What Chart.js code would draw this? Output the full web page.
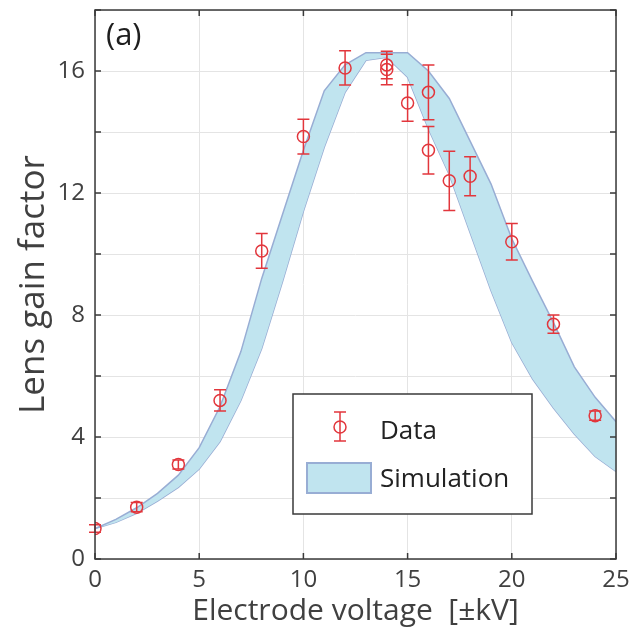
<!DOCTYPE html>
<html>
<head>
<meta charset="utf-8">
<script src="https://cdn.jsdelivr.net/npm/chart.js@4"></script>
<style>
  html, body { margin: 0; padding: 0; background: #fff; }
  #wrap { width: 631px; height: 629px; }
</style>
</head>
<body>
<div id="wrap"><canvas id="lensChart"></canvas></div>
<script>
const voltages = [0, 2, 4, 6, 8, 10, 12, 14, 14, 15, 16, 16, 17, 18, 20, 22, 24];
const gains = [1.0, 1.7, 3.1, 5.2, 10.1, 13.85, 16.1, 16.2, 16.05, 14.95, 15.3, 13.4, 12.4, 12.55, 10.4, 7.7, 4.7];
const gainErrors = [0.12, 0.15, 0.15, 0.35, 0.57, 0.57, 0.56, 0.45, 0.5, 0.6, 0.9, 0.78, 0.97, 0.64, 0.6, 0.3, 0.15];

// Simulation band
const simVoltages = [0, 1, 2, 3, 4, 5, 6, 7, 8, 9, 10, 11, 12, 13, 14, 15, 16, 17, 18, 19, 20, 21, 22, 23, 24, 25];
const simUpper = [1.0, 1.3, 1.68, 2.15, 2.75, 3.65, 5.0, 6.8, 9.2, 11.3, 13.4, 15.35, 16.2, 16.6, 16.6, 16.6, 16.0, 15.1, 13.7, 12.3, 10.5, 9.1, 7.75, 6.3, 5.3, 4.5];
const simLower = [1.0, 1.2, 1.5, 1.9, 2.35, 2.95, 3.85, 5.2, 6.9, 9.1, 11.4, 13.5, 15.3, 16.35, 16.45, 15.8, 14.1, 12.6, 10.7, 8.8, 7.1, 5.9, 4.95, 4.1, 3.36, 2.87];

// Tick labels
const xTickLabels = [0, 5, 10, 15, 20, 25];
const yTickLabels = [0, 4, 8, 12, 16];

const RED = '#e2363c';
const BAND_FILL = '#c0e4ef';
const BAND_EDGE = '#98add4';
const AXIS = '#3a3a3a';
const TEXT = '#404040';
const FONT = "'Open Sans', sans-serif";

Chart.defaults.font.family = FONT;
Chart.defaults.color = TEXT;

// error bars, frame, legend and panel tag
const decorations = {
    id: 'decorations',
    afterDatasetsDraw(chart) {
        const { ctx, scales: { x, y } } = chart;
        ctx.save();
        ctx.strokeStyle = RED;
        ctx.lineWidth = 1.5;
        voltages.forEach((v, i) => {
            const px = x.getPixelForValue(v);
            const top = y.getPixelForValue(gains[i] + gainErrors[i]);
            const bot = y.getPixelForValue(gains[i] - gainErrors[i]);
            ctx.beginPath();
            ctx.moveTo(px, top); ctx.lineTo(px, bot);
            ctx.moveTo(px - 6, top); ctx.lineTo(px + 6, top);
            ctx.moveTo(px - 6, bot); ctx.lineTo(px + 6, bot);
            ctx.stroke();
        });
        ctx.restore();
    },
    afterDraw(chart) {
        const { ctx, chartArea: a, scales: { x, y } } = chart;
        ctx.save();
        // frame
        ctx.strokeStyle = AXIS;
        ctx.lineWidth = 1.5;
        ctx.strokeRect(a.left, a.top, a.right - a.left, a.bottom - a.top);
        // inward tick marks
        ctx.beginPath();
        x.ticks.forEach(t => {
            const px = x.getPixelForValue(t.value);
            ctx.moveTo(px, a.bottom); ctx.lineTo(px, a.bottom - 6);
            ctx.moveTo(px, a.top); ctx.lineTo(px, a.top + 6);
        });
        y.ticks.forEach(t => {
            const py = y.getPixelForValue(t.value);
            ctx.moveTo(a.left, py); ctx.lineTo(a.left + 6, py);
            ctx.moveTo(a.right, py); ctx.lineTo(a.right - 6, py);
        });
        ctx.stroke();

        // panel tag
        ctx.fillStyle = '#1e1e1e';
        ctx.font = '31px ' + FONT;
        ctx.textBaseline = 'alphabetic';
        ctx.fillText('(a)', a.left + 11, a.top + 35);

        // legend box
        const lx = a.left + 198, ly = a.top + 384, lw = 239, lh = 120;
        ctx.fillStyle = '#fff';
        ctx.fillRect(lx, ly, lw, lh);
        ctx.strokeStyle = AXIS;
        ctx.lineWidth = 1.5;
        ctx.strokeRect(lx, ly, lw, lh);

        // data symbol
        const sx = lx + 47, sy = ly + 36;
        ctx.strokeStyle = RED;
        ctx.beginPath();
        ctx.moveTo(sx, sy - 18); ctx.lineTo(sx, sy + 11);
        ctx.moveTo(sx - 6, sy - 18); ctx.lineTo(sx + 6, sy - 18);
        ctx.moveTo(sx - 6, sy + 11); ctx.lineTo(sx + 6, sy + 11);
        ctx.stroke();
        ctx.beginPath();
        ctx.arc(sx, sy - 3, 6, 0, Math.PI * 2);
        ctx.stroke();

        // simulation patch
        ctx.fillStyle = BAND_FILL;
        ctx.strokeStyle = BAND_EDGE;
        ctx.lineWidth = 2;
        ctx.fillRect(lx + 14, ly + 69, 64, 30);
        ctx.strokeRect(lx + 14, ly + 69, 64, 30);

        ctx.fillStyle = '#222';
        ctx.font = '26px ' + FONT;
        ctx.textBaseline = 'middle';
        ctx.fillText('Data', lx + 87, ly + 38);
        ctx.fillText('Simulation', lx + 87, ly + 86);
        ctx.restore();
    }
};

new Chart(document.getElementById('lensChart').getContext('2d'), {
    data: {
        datasets: [{
            type: 'scatter',
            label: 'Data',
            data: voltages.map((v, i) => ({ x: v, y: gains[i] })),
            borderColor: RED,
            backgroundColor: 'rgba(0,0,0,0)',
            pointRadius: 6,
            pointBorderWidth: 1.5,
            order: 0
        }, {
            type: 'line',
            label: 'Simulation',
            data: simVoltages.map((v, i) => ({ x: v, y: simUpper[i] })),
            borderColor: BAND_EDGE,
            borderWidth: 1.5,
            backgroundColor: BAND_FILL,
            pointRadius: 0,
            tension: 0,
            fill: '+1',
            order: 1
        }, {
            type: 'line',
            label: 'Simulation (lower)',
            data: simVoltages.map((v, i) => ({ x: v, y: simLower[i] })),
            borderColor: BAND_EDGE,
            borderWidth: 1.5,
            pointRadius: 0,
            tension: 0,
            fill: false,
            order: 2
        }]
    },
    options: {
        responsive: true,
        maintainAspectRatio: false,
        animation: false,
        layout: { padding: { top: 10, right: 15, left: 0, bottom: 0 } },
        plugins: {
            legend: { display: false },
            tooltip: { enabled: false }
        },
        scales: {
            x: {
                type: 'linear',
                min: 0,
                max: 25,
                afterFit: s => { s.height = 70; s.paddingLeft = 0; s.paddingRight = 0; },
                border: { display: false },
                grid: { color: '#e4e4e4', drawTicks: false },
                ticks: {
                    stepSize: 5,
                    padding: 7,
                    color: TEXT,
                    font: { size: 24 },
                    callback: v => xTickLabels.includes(v) ? String(v) : ''
                },
                title: {
                    display: true,
                    text: 'Electrode voltage  [±kV]',
                    color: TEXT,
                    font: { size: 30 },
                    padding: { top: 0, bottom: 0 }
                }
            },
            y: {
                type: 'linear',
                min: 0,
                max: 18,
                afterFit: s => { s.width = 95; s.paddingTop = 0; s.paddingBottom = 0; },
                border: { display: false },
                grid: { color: '#e4e4e4', drawTicks: false },
                ticks: {
                    stepSize: 2,
                    padding: 10,
                    color: TEXT,
                    font: { size: 24 },
                    callback: v => yTickLabels.includes(v) ? String(v) : ''
                },
                title: {
                    display: true,
                    text: 'Lens gain factor',
                    color: TEXT,
                    font: { size: 35 },
                    padding: { top: 13, bottom: 0 }
                }
            }
        }
    },
    plugins: [decorations]
});
</script>
</body>
</html>
